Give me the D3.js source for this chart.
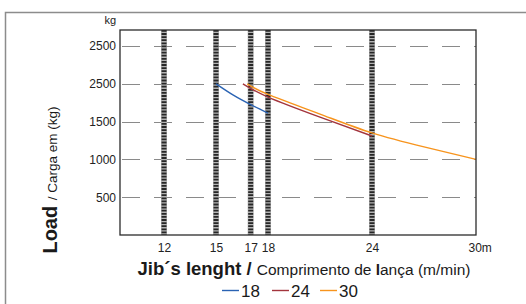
<!DOCTYPE html>
<html>
<head>
<meta charset="utf-8">
<script src="https://cdn.jsdelivr.net/npm/d3@7"></script>
<style>
  body { margin: 0; background: #fff; }
  svg { display: block; font-family: "Liberation Sans", Arial, sans-serif; }
</style>
</head>
<body>
<svg id="chart" width="526" height="304"></svg>
<script>
// values
var jibMarks = [12, 15, 17, 18, 24];
var xTicks = [12, 15, 17, 18, 24, 30];
var xTickLabels = ["12", "15", "17", "18", "24", "30m"];
var yTicks = [500, 1000, 1500, 2000, 2500];
var yTickLabels = ["500", "1000", "1500", "2500", "2500"]; // as printed
var seriesNames = ["18", "24", "30"];
var seriesColors = ["#2a63b3", "#a3353d", "#f7941d"];
var load18 = [[15, 2000], [16, 1850], [17, 1725], [18, 1612]];
var load24 = [[16.55, 2000], [18, 1825], [21, 1560], [24, 1310]];
var load30 = [[16.8, 2000], [18, 1860], [21, 1600], [24, 1350], [27, 1165], [30, 1000]];

var svg = d3.select("#chart");
var margin = {left: 120, top: 30, right: 50, bottom: 69};
var w = 526 - margin.left - margin.right,
    h = 304 - margin.top - margin.bottom;

// outer frame
svg.append("rect")
  .attr("x", 5.5).attr("y", 12.5)
  .attr("width", 560).attr("height", 320)
  .attr("fill", "none").attr("stroke", "#8c8c8c").attr("stroke-width", 1.5);

var x = d3.scaleLinear().domain([9.46, 30]).range([0, w]);
var y = d3.scaleLinear().domain([0, 2712]).range([h, 0]);

var g = svg.append("g").attr("transform", "translate(" + margin.left + "," + margin.top + ")");

// dashed grid
g.append("g").selectAll("line")
  .data(yTicks)
  .enter().append("line")
  .attr("x1", 0).attr("x2", w)
  .attr("y1", function(d) { return Math.round(y(d)) + 0.5; })
  .attr("y2", function(d) { return Math.round(y(d)) + 0.5; })
  .attr("stroke", "#8a8a8a").attr("stroke-width", 1.2)
  .attr("stroke-dasharray", "18,14")
  .attr("stroke-dashoffset", -2);

// striped jib bars
var bars = g.append("g").selectAll("g")
  .data(jibMarks)
  .enter().append("g");
bars.append("line")
  .attr("x1", function(d) { return x(d); }).attr("x2", function(d) { return x(d); })
  .attr("y1", 0).attr("y2", h)
  .attr("stroke", "#b4b4b4").attr("stroke-width", 6);
bars.append("line")
  .attr("x1", function(d) { return x(d); }).attr("x2", function(d) { return x(d); })
  .attr("y1", 0).attr("y2", h)
  .attr("stroke", "#262626").attr("stroke-width", 5)
  .attr("stroke-dasharray", "1.8,1.3");

// load curves
var line = d3.line()
  .x(function(d) { return x(d[0]); })
  .y(function(d) { return y(d[1]); })
  .curve(d3.curveNatural);
[load18, load24, load30].forEach(function(s, i) {
  g.append("path")
    .datum(s)
    .attr("d", line)
    .attr("fill", "none")
    .attr("stroke", seriesColors[i])
    .attr("stroke-width", 1.4);
});

// frame of the plot
g.append("rect")
  .attr("x", 0).attr("y", 0).attr("width", w).attr("height", h)
  .attr("fill", "none").attr("stroke", "#2b2b2b").attr("stroke-width", 1.3);

// y axis labels
var yAxis = d3.axisLeft(y)
  .tickValues(yTicks)
  .tickSize(0)
  .tickPadding(4)
  .tickFormat(function(d, i) { return yTickLabels[i]; });
var ya = g.append("g").call(yAxis);
ya.select(".domain").remove();
ya.selectAll("text").attr("font-size", 12).attr("fill", "#222")
  .attr("font-family", "Liberation Sans, Arial, sans-serif");

g.append("text")
  .attr("x", -4).attr("y", -6)
  .attr("text-anchor", "end")
  .attr("font-size", 11).attr("fill", "#222")
  .text("kg");

// x axis labels
var xAxis = d3.axisBottom(x)
  .tickValues(xTicks)
  .tickSize(0)
  .tickPadding(8)
  .tickFormat(function(d, i) { return xTickLabels[i]; });
var xa = g.append("g").attr("transform", "translate(0," + h + ")").call(xAxis);
xa.select(".domain").remove();
xa.selectAll("text").attr("font-size", 12).attr("fill", "#222")
  .attr("font-family", "Liberation Sans, Arial, sans-serif");
xa.selectAll(".tick").filter(function(d) { return d == 30; }).select("text")
  .attr("text-anchor", "start").attr("dx", -8);

// x title
var xt = svg.append("text")
  .attr("x", 304).attr("y", 275)
  .attr("text-anchor", "middle")
  .attr("fill", "#1a1a1a");
xt.append("tspan").attr("font-weight", "bold").attr("font-size", 18.5).text("Jib´s lenght / ");
xt.append("tspan").attr("font-size", 15.5).text("Comprimento de ");
xt.append("tspan").attr("font-size", 15.5).attr("font-weight", "bold").text("l");
xt.append("tspan").attr("font-size", 15.5).text("ança (m/min)");

// y title
var yt = svg.append("text")
  .attr("transform", "translate(57,180) rotate(-90)")
  .attr("text-anchor", "middle")
  .attr("fill", "#1a1a1a");
yt.append("tspan").attr("font-weight", "bold").attr("font-size", 20).text("Load ");
yt.append("tspan").attr("font-size", 13.5).text("/ Carga em (kg)");

// legend
var legX = [222, 272, 320];
var leg = svg.append("g").selectAll("g")
  .data(seriesNames)
  .enter().append("g")
  .attr("transform", function(d, i) { return "translate(" + legX[i] + ",290)"; });
leg.append("line")
  .attr("x1", 0).attr("x2", 17).attr("y1", 0.5).attr("y2", 0.5)
  .attr("stroke", function(d, i) { return seriesColors[i]; })
  .attr("stroke-width", 1.4);
leg.append("text")
  .attr("x", 19).attr("y", 6.5)
  .attr("font-size", 17).attr("fill", "#1a1a1a")
  .text(function(d) { return d; });
</script>
</body>
</html>
